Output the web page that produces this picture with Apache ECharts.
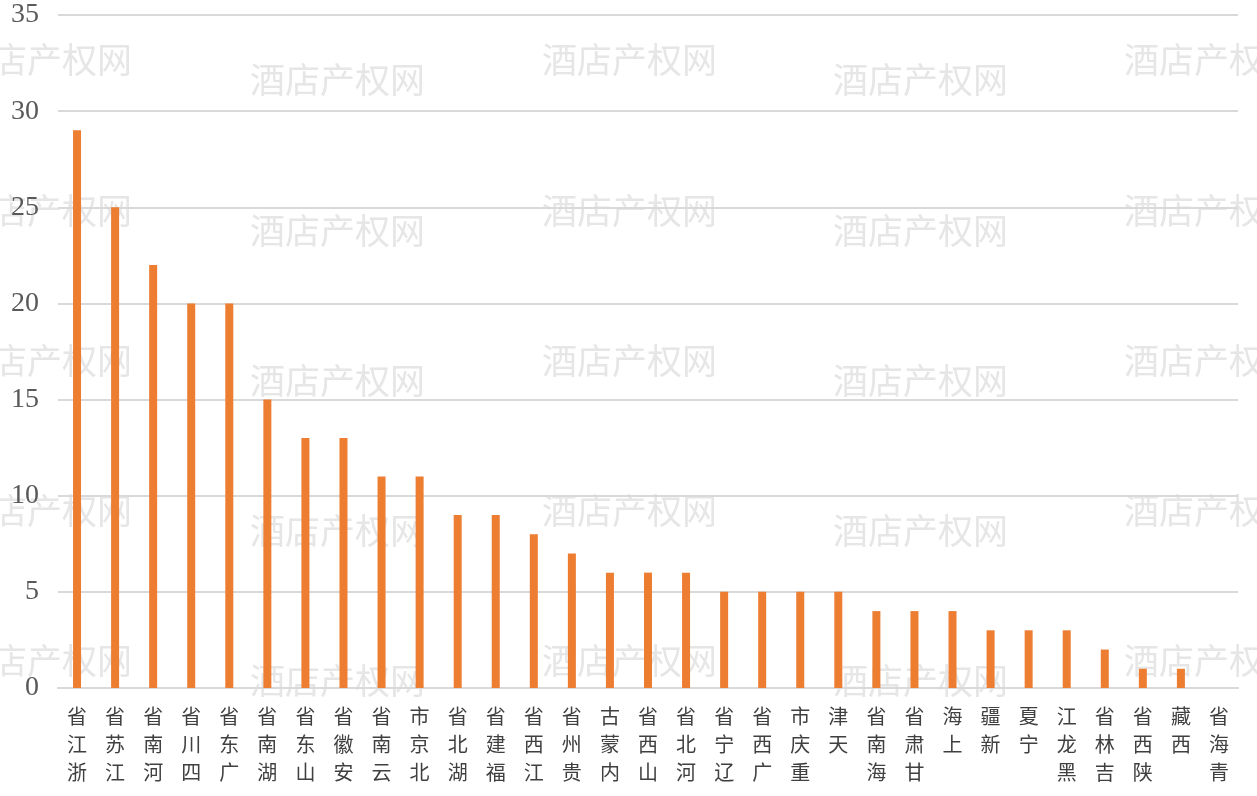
<!DOCTYPE html>
<html><head><meta charset="utf-8">
<script src="https://cdn.jsdelivr.net/npm/echarts@6/dist/echarts.min.js"></script>
<style>html,body{margin:0;padding:0;background:#fff}#c{width:1257px;height:796px}</style>
</head><body><div id="c"></div>
<script>
const categories = ['浙江省','江苏省','河南省','四川省','广东省','湖南省','山东省','安徽省','云南省','北京市','湖北省','福建省','江西省','贵州省','内蒙古','山西省','河北省','辽宁省','广西省','重庆市','天津','海南省','甘肃省','上海','新疆','宁夏','黑龙江','吉林省','陕西省','西藏','青海省'];
const values = [29,25,22,20,20,15,13,13,11,11,9,9,8,7,6,6,6,5,5,5,5,4,4,4,3,3,3,2,1,1,0];
const yTicks = [0,5,10,15,20,25,30,35];
const watermarkText = '酒店产权网';

const chart = echarts.init(document.getElementById('c'));
const wm = [];
const colX = [-43, 250, 542, 833, 1124];
const rowsA = [62, 213, 363, 513, 663];
colX.forEach((x, i) => {
  rowsA.forEach(y => {
    wm.push({type:'text', left:x, top:(i % 2 === 0 ? y : y + 20) - 20, z:-10, silent:true,
      style:{text:watermarkText, fill:'#e6e6e6', font:'normal 35px "Noto Sans CJK SC"'}});
  });
});
chart.setOption({
  animation:false,
  graphic: wm,
  grid:{left:58, right:19, top:15, bottom:108},
  xAxis:{type:'category', data:categories,
    axisLine:{lineStyle:{color:'#d9d9d9', width:2}},
    axisTick:{show:false},
    axisLabel:{interval:0, margin:14, color:'#404040', fontSize:20, lineHeight:28,
      fontFamily:'"Noto Sans CJK SC"',
      formatter: v => v.split('').reverse().join('\n')}
  },
  yAxis:{type:'value', min:0, max:35, interval:5,
    axisLine:{show:false}, axisTick:{show:false},
    splitLine:{lineStyle:{color:'#d9d9d9', width:2}},
    axisLabel:{color:'#595959', fontSize:28, margin:19, fontFamily:'"Liberation Serif"',
      formatter: v => yTicks.includes(v) ? String(v) : ''}
  },
  series:[{type:'bar', data:values, barWidth:8, itemStyle:{color:'#ED7D31'}}]
});
</script></body></html>
